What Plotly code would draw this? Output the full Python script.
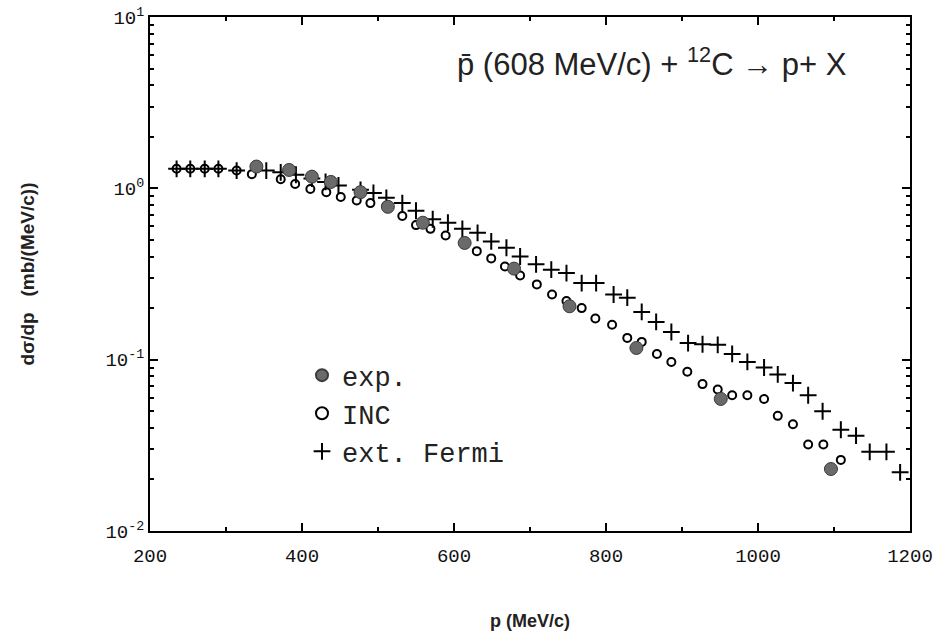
import plotly.graph_objects as go

# experimental data
exp_p = [340, 383, 413, 438, 477, 513, 559, 614, 679, 752, 840, 951, 1096]
exp_v = [1.34, 1.28, 1.17, 1.09, 0.95, 0.78, 0.63, 0.48, 0.34, 0.205, 0.117, 0.059, 0.023]

# INC calculation
inc_p = [235, 253, 272, 290, 314, 334, 372, 391, 411, 432, 451, 472, 490, 511, 532, 550, 569,
         589, 614, 630, 649, 667, 687, 709, 729, 748, 768, 786, 808, 828, 847, 867, 886, 907,
         927, 947, 966, 986, 1008, 1026, 1046, 1066, 1086, 1109]
inc_v = [1.30, 1.30, 1.30, 1.30, 1.27, 1.21, 1.13, 1.06, 0.99, 0.95, 0.89, 0.85, 0.82, 0.79, 0.69,
         0.61, 0.58, 0.53, 0.49, 0.43, 0.39, 0.35, 0.31, 0.275, 0.24, 0.22, 0.20, 0.174, 0.16,
         0.134, 0.127, 0.108, 0.097, 0.085, 0.072, 0.067, 0.062, 0.062, 0.059, 0.047, 0.042,
         0.032, 0.032, 0.026]

# extended Fermi calculation
fer_p = [235, 253, 272, 290, 314, 353, 372, 392, 413, 431, 448, 477, 494, 511, 532, 550, 572, 592,
         611, 631, 649, 669, 687, 708, 728, 748, 768, 787, 810, 828, 847, 866, 886, 908, 927,
         947, 966, 986, 1008, 1026, 1046, 1066, 1085, 1109, 1129, 1147, 1169, 1187]
fer_v = [1.30, 1.30, 1.30, 1.30, 1.27, 1.27, 1.24, 1.20, 1.14, 1.09, 1.04, 0.98, 0.94, 0.88, 0.82,
         0.74, 0.66, 0.63, 0.58, 0.55, 0.49, 0.45, 0.40, 0.36, 0.335, 0.32, 0.28, 0.28, 0.24,
         0.23, 0.19, 0.166, 0.145, 0.125, 0.123, 0.122, 0.108, 0.097, 0.09, 0.082, 0.073,
         0.062, 0.05, 0.039, 0.036, 0.029, 0.029, 0.022]

y_tickvals = [0.01, 0.1, 1, 10]
y_ticktext = ["10<sup>-2</sup>", "10<sup>-1</sup>", "10<sup>0</sup>", "10<sup>1</sup>"]
x_tickvals = [200, 400, 600, 800, 1000, 1200]

mono = "Liberation Mono, Courier New, monospace"
sans = "Liberation Sans, Arial, sans-serif"

fig = go.Figure()
fig.add_trace(go.Scatter(
    x=fer_p, y=fer_v, mode="markers", name="ext. Fermi", legendgroup="c",
    marker=dict(symbol="cross-thin", size=12, line=dict(width=2, color="black"), color="black")))
fig.add_trace(go.Scatter(
    x=inc_p, y=inc_v, mode="markers", name="INC", legendgroup="b",
    marker=dict(symbol="circle-open", size=8, line=dict(width=2, color="black"), color="black")))
fig.add_trace(go.Scatter(
    x=exp_p, y=exp_v, mode="markers", name="exp.", legendgroup="a",
    marker=dict(symbol="circle", size=13, color="#6a6a6a", line=dict(width=1, color="#3a3a3a"))))

fig.update_layout(
    width=940, height=635,
    margin=dict(l=150, r=30, t=17, b=104),
    paper_bgcolor="white", plot_bgcolor="white",
    showlegend=True,
    legend=dict(x=0.2, y=0.35, xanchor="left", yanchor="top",
                traceorder="reversed", tracegroupgap=10,
                font=dict(family=mono, size=27, color="#222"),
                bgcolor="rgba(0,0,0,0)", itemsizing="constant"),
    xaxis=dict(range=[200, 1200], tickvals=x_tickvals, ticks="inside", ticklen=8,
               tickwidth=1.5, tickcolor="black", showline=True, linecolor="black",
               linewidth=2, mirror="ticks", showgrid=False, zeroline=False,
               ticklabelstandoff=6, automargin=False,
               tickfont=dict(family=mono, size=19, color="#111"),
               minor=dict(dtick=100, ticks="inside", ticklen=4, tickcolor="black"),
               title=dict(text="<b>p (MeV/c)</b>", font=dict(family=sans, size=18, color="#222"),
                          standoff=48)),
    yaxis=dict(type="log", range=[-2, 1], tickvals=y_tickvals, ticktext=y_ticktext,
               ticks="inside", ticklen=8, tickwidth=1.5, tickcolor="black",
               showline=True, linecolor="black", linewidth=2, mirror="ticks",
               showgrid=False, zeroline=False, automargin=False,
               tickfont=dict(family=mono, size=19, color="#111"),
               minor=dict(dtick="D1", ticks="inside", ticklen=4, tickcolor="black"),
               title=dict(text="<b>d\u03c3/dp   (mb/(MeV/c))</b>",
                          font=dict(family=sans, size=19, color="#222"), standoff=66)),
)

fig.add_annotation(
    xref="paper", yref="paper", x=0.92, y=0.912, xanchor="right", yanchor="middle",
    showarrow=False,
    text="p\u0304 (608 MeV/c) + <sup>12</sup>C \u2192 p+ X",
    font=dict(family=sans, size=31, color="#222"))

fig.write_html("out.html")
